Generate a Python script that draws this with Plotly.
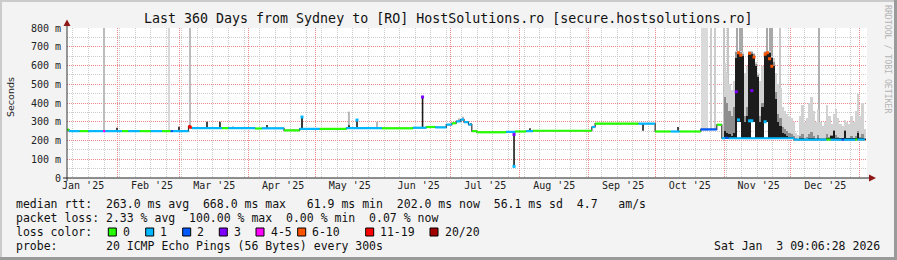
import pandas as pd
import plotly.graph_objects as go

# ---------------- data ----------------
loss_labels = ["0", "1", "2", "3", "4-5", "6-10", "11-19", "20/20"]
loss_colors = ["#26ff00", "#00b8ff", "#0059ff", "#7e00ff", "#ff00ff", "#ff5500", "#ff0000", "#a00000"]

month_starts = ["2025-02-01", "2025-03-01", "2025-04-01", "2025-05-01", "2025-06-01", "2025-07-01",
                "2025-08-01", "2025-09-01", "2025-10-01", "2025-11-01", "2025-12-01", "2026-01-01"]
month_labels = ["Jan '25", "Feb '25", "Mar '25", "Apr '25", "May '25", "Jun '25",
                "Jul '25", "Aug '25", "Sep '25", "Oct '25", "Nov '25", "Dec '25"]
label_dates = ["2025-01-16 14:00", "2025-02-16 14:00", "2025-03-16 14:00", "2025-04-16 14:00",
               "2025-05-16 14:00", "2025-06-16 14:00", "2025-07-16 14:00", "2025-08-16 14:00",
               "2025-09-16 14:00", "2025-10-16 14:00", "2025-11-16 14:00", "2025-12-16 14:00"]
y_tick_vals = [0, 100, 200, 300, 400, 500, 600, 700, 800]
y_tick_text = ["0", "100 m", "200 m", "300 m", "400 m", "500 m", "600 m", "700 m", "800 m"]

x_start = "2025-01-09 08:00"
x_end = "2026-01-04 08:00"
data_end = "2026-01-03 08:00"

# median rtt (ms) as steps: value holds from start[i] to start[i+1]
median_start = ["2025-01-09 08:00", "2025-01-10 06:00", "2025-01-15 00:00", "2025-01-19 00:00",
                "2025-01-25 12:00", "2025-01-26 12:00", "2025-02-03 00:00", "2025-02-06 00:00",
                "2025-02-11 00:00", "2025-02-16 00:00", "2025-02-21 00:00", "2025-02-25 00:00",
                "2025-02-26 00:00", "2025-03-05 00:00", "2025-03-05 20:00", "2025-03-06 12:00",
                "2025-03-20 00:00", "2025-03-23 00:00", "2025-04-04 00:00", "2025-04-07 00:00",
                "2025-04-17 00:00", "2025-04-24 00:00", "2025-05-03 00:00", "2025-05-15 00:00",
                "2025-05-31 00:00", "2025-06-14 00:00", "2025-06-20 00:00", "2025-06-24 00:00",
                "2025-06-29 00:00", "2025-07-01 12:00", "2025-07-03 12:00", "2025-07-05 12:00",
                "2025-07-07 00:00", "2025-07-09 00:00", "2025-07-10 12:00", "2025-07-12 18:00",
                "2025-07-26 00:00", "2025-07-30 00:00", "2025-08-04 00:00", "2025-08-07 00:00",
                "2025-09-02 12:00", "2025-09-04 00:00", "2025-09-23 12:00", "2025-10-01 00:00",
                "2025-10-08 00:00", "2025-10-12 00:00", "2025-10-21 12:00", "2025-10-28 18:00",
                "2025-10-31 00:00", "2025-11-01 12:00", "2025-11-03 00:00", "2025-12-02 12:00",
                "2025-12-17 00:00", "2025-12-19 00:00", "2025-12-24 00:00", "2025-12-25 00:00",
                "2025-12-30 00:00", "2025-12-31 00:00"]
median_value = [258, 250, 250, 250, 250, 250, 250, 250, 250, 250, 250, 250,
                250, 276, 270, 266, 266, 266, 264, 265, 254, 262, 262, 266,
                265, 268, 272, 270, 285, 292, 302, 312, 298, 285, 250, 244,
                246, 248, 250, 252, 272, 290, 290, 248, 248, 248, 259, 284,
                212, 214, 212, 205, 205, 204, 204, 204, 205, 205]
median_loss = [0, 1, 0, 1, 4, 1, 0, 1, 0, 1, 0, 2,
               1, 6, 5, 1, 0, 1, 0, 1, 0, 1, 0, 1,
               0, 1, 0, 1, 1, 0, 1, 1, 1, 1, 0, 0,
               1, 0, 1, 0, 1, 0, 1, 0, 1, 0, 2, 0,
               1, 2, 1, 1, 0, 1, 2, 1, 0, 1]

# narrow dark spikes (all pings high / low)
spike_dates = ["2025-01-31 20:00", "2025-02-28 17:00", "2025-03-13 08:00", "2025-03-19 04:00",
               "2025-03-25 00:00", "2025-03-28 15:00", "2025-04-02 00:00", "2025-04-09 08:00",
               "2025-04-25 02:00", "2025-05-16 05:00", "2025-05-19 20:00", "2025-06-18 08:00",
               "2025-07-10 03:00", "2025-07-29 12:00", "2025-08-05 16:00", "2025-09-25 13:00",
               "2025-10-11 07:00"]
spike_low = [250, 250, 266, 266, 266, 266, 266, 265, 262, 266, 266, 270, 285, 62, 250, 252, 248]
spike_high = [268, 274, 300, 300, 273, 270, 270, 283, 325, 282, 309, 432, 292, 246, 266, 290, 272]

# light smoke spikes
haze_dates = ["2025-04-25 02:00", "2025-05-16 05:00", "2025-05-28 20:00", "2025-07-04 18:00", "2025-07-06 13:00"]
haze_low = [262, 265, 265, 300, 305]
haze_high = [330, 354, 300, 318, 327]

# full-height grey columns (unknown / extreme max)
gap_dates = ["2025-01-25 23:00", "2025-02-24 05:00", "2025-03-05 16:00", "2025-10-23 05:00",
             "2025-10-26 03:00", "2025-10-27 22:00", "2025-11-01 00:00", "2025-11-02 19:00",
             "2025-11-06 20:00", "2025-11-08 04:00", "2025-11-09 02:00", "2025-11-20 08:00",
             "2025-11-21 16:00", "2025-11-22 14:00", "2025-11-26 04:00", "2025-12-13 18:00"]
gap_days = [0.7, 0.7, 0.9, 3.2, 0.6, 0.6, 0.5, 0.5, 0.5, 0.5, 0.5, 0.5, 0.5, 0.5, 0.5, 0.6]
gap_low = [250, 250, 262, 252, 259, 259, 212, 212, 600, 600, 600, 600, 600, 600, 212, 205]
gap_shade = ["#bcbcbc", "#d8d8d8", "#bcbcbc", "#dadada", "#cccccc", "#cccccc", "#c4c4c4", "#c4c4c4",
             "#a8a8a8", "#a8a8a8", "#a8a8a8", "#a8a8a8", "#a8a8a8", "#a8a8a8", "#c8c8c8", "#b0b0b0"]

# daily smoke, 2025-11-01 .. 2026-01-03
smoke_first_day = "2025-11-01 12:00"
smoke_floor = [212, 212, 212, 212, 212, 212, 300, 300, 212, 212,
               212, 212, 300, 300, 212, 212, 212, 212, 300, 300,
               212, 212, 212, 212, 212, 212, 212, 212, 212, 212,
               212, 212, 205, 205, 205, 205, 205, 205, 205, 205,
               205, 205, 205, 205, 205, 205, 205, 205, 205, 205,
               205, 205, 205, 205, 205, 205, 205, 205, 205, 205,
               205, 205, 205, 205]
smoke_top = [611, 560, 500, 470, 520, 680, 680, 680, 670, 560,
             600, 680, 680, 665, 620, 560, 520, 600, 680, 680,
             680, 650, 640, 560, 500, 480, 380, 360, 340, 330,
             320, 300, 240, 230, 330, 390, 300, 320, 400, 430,
             360, 300, 370, 300, 280, 300, 390, 330, 290, 340,
             370, 320, 290, 280, 310, 300, 290, 330, 300, 360,
             450, 330, 400, 260]
mid_top = [430, 400, 360, 330, 380, 670, 672, 670, 660, 330,
           380, 672, 670, 660, 610, 550, 330, 400, 670, 672,
           670, 648, 620, 460, 340, 320, 270, 260, 250, 240,
           235, 225, 212, 205, 225, 235, 215, 220, 235, 245,
           225, 215, 230, 215, 212, 215, 235, 220, 230, 255,
           230, 220, 215, 215, 255, 215, 215, 225, 215, 225,
           250, 220, 235, 210]
dark_top = [250, 240, 235, 225, 240, 640, 668, 660, 650, 300,
            330, 665, 660, 650, 600, 540, 300, 380, 662, 668,
            665, 640, 600, 420, 300, 280, 240, 235, 225, 220,
            215, 212, 208, 205, 212, 212, 208, 208, 212, 215,
            212, 208, 212, 208, 208, 208, 212, 210, 225, 250,
            212, 210, 210, 212, 250, 210, 210, 212, 210, 212,
            240, 212, 210, 208]

# coloured loss points at spike tips
tip_dates = ["2025-03-05 16:00", "2025-04-25 02:00", "2025-05-19 20:00", "2025-06-18 08:00",
             "2025-07-29 12:00", "2025-07-29 12:00", "2025-11-06 12:00", "2025-11-07 12:00",
             "2025-11-08 12:00", "2025-11-07 12:00", "2025-11-12 12:00", "2025-11-13 12:00",
             "2025-11-14 12:00", "2025-11-13 12:00", "2025-11-19 12:00", "2025-11-20 12:00",
             "2025-11-21 12:00", "2025-11-22 12:00", "2025-11-12 12:00", "2025-11-19 12:00"]
tip_values = [272, 325, 309, 432, 62, 232, 460, 668, 655, 310, 665, 466, 645, 305, 660, 668, 636, 596, 305, 300]
tip_loss = [6, 1, 1, 3, 1, 3, 3, 5, 5, 1, 5, 3, 5, 1, 5, 5, 5, 5, 1, 1]

legend_rows = [
    "median rtt:  263.0 ms avg  668.0 ms max   61.9 ms min  202.0 ms now  56.1 ms sd  4.7   am/s",
    "packet loss: 2.33 % avg  100.00 % max  0.00 % min  0.07 % now",
    "loss color:",
    "probe:       20 ICMP Echo Pings (56 Bytes) every 300s",
]
title_text = "Last 360 Days from Sydney to [RO] HostSolutions.ro [secure.hostsolutions.ro]"
stamp_text = "Sat Jan  3 09:06:28 2026"

# ---------------- geometry helpers (pixel -> paper) ----------------
L, T, W, H = 67, 28, 800, 150
def px(x):
    return (x - L) / W
def py(y):
    return (T + H - y) / H

DAY = 86400000
MONO = "DejaVu Sans Mono"

fig = go.Figure()

# full height grey columns
g_x = pd.to_datetime(gap_dates)
fig.add_trace(go.Bar(x=g_x, base=gap_low, y=[800 - b for b in gap_low],
                     width=[d * DAY for d in gap_days],
                     marker=dict(color=gap_shade, line=dict(width=0)), hoverinfo="skip"))

# smoke bars
s_x = pd.date_range(smoke_first_day, periods=len(smoke_top), freq="D")
for tops, col in ((smoke_top, "#d2d2d2"), (mid_top, "#8e8e8e"), (dark_top, "#1c1c1c")):
    fig.add_trace(go.Bar(x=s_x, base=smoke_floor, y=[max(t - b, 0) for t, b in zip(tops, smoke_floor)],
                         width=0.85 * DAY, marker=dict(color=col, line=dict(width=0)),
                         hoverinfo="skip"))

# haze spikes
hx, hy = [], []
for d, lo, hi in zip(haze_dates, haze_low, haze_high):
    hx += [d, d, None]; hy += [lo, hi, None]
fig.add_trace(go.Scatter(x=hx, y=hy, mode="lines", line=dict(color="#b8b8b8", width=2), hoverinfo="skip"))

# dark spikes
sx, sy = [], []
for d, lo, hi in zip(spike_dates, spike_low, spike_high):
    sx += [d, d, None]; sy += [lo, hi, None]
fig.add_trace(go.Scatter(x=sx, y=sy, mode="lines", line=dict(color="#1a1a1a", width=1.6), hoverinfo="skip"))

# median step path (connectors)
fig.add_trace(go.Scatter(x=median_start + [data_end], y=median_value + [median_value[-1]],
                         mode="lines", line=dict(color="#333333", width=1.2, shape="hv"), hoverinfo="skip"))

# median coloured by loss
seg_end = median_start[1:] + [data_end]
for k, col in enumerate(loss_colors):
    xs, ys = [], []
    for s, e, v, l in zip(median_start, seg_end, median_value, median_loss):
        if l == k:
            xs += [s, e, None]; ys += [v, v, None]
    if xs:
        fig.add_trace(go.Scatter(x=xs, y=ys, mode="lines", line=dict(color=col, width=2.2),
                                 hoverinfo="skip"))

# tips
fig.add_trace(go.Scatter(x=tip_dates, y=tip_values, mode="markers",
                         marker=dict(symbol="square", size=3, color=[loss_colors[i] for i in tip_loss],
                                     line=dict(width=0)), hoverinfo="skip"))

# dummy trace for the label axis
fig.add_trace(go.Scatter(x=[x_start, x_end], y=[0, 0], xaxis="x2", mode="markers",
                         marker=dict(opacity=0), hoverinfo="skip"))

shapes = []
# frame
shapes += [
    dict(type="rect", xref="paper", yref="paper", x0=px(0), x1=px(897), y0=py(2), y1=py(0),
         fillcolor="#cbcbcb", line=dict(width=0), layer="above"),
    dict(type="rect", xref="paper", yref="paper", x0=px(0), x1=px(2), y0=py(260), y1=py(0),
         fillcolor="#cbcbcb", line=dict(width=0), layer="above"),
    dict(type="rect", xref="paper", yref="paper", x0=px(0), x1=px(897), y0=py(260), y1=py(257),
         fillcolor="#9a9a9a", line=dict(width=0), layer="above"),
    dict(type="rect", xref="paper", yref="paper", x0=px(894), x1=px(897), y0=py(260), y1=py(0),
         fillcolor="#9a9a9a", line=dict(width=0), layer="above"),
]
# axes lines + arrows
shapes += [
    dict(type="line", xref="paper", yref="paper", x0=px(67), x1=px(67), y0=py(181), y1=py(24),
         line=dict(color="#333333", width=1), layer="above"),
    dict(type="line", xref="paper", yref="paper", x0=px(63), x1=px(870), y0=py(178), y1=py(178),
         line=dict(color="#222222", width=1), layer="above"),
    dict(type="path", xref="paper", yref="paper",
         path=f"M {px(67)} {py(19.5)} L {px(63.5)} {py(26)} L {px(70.5)} {py(26)} Z",
         fillcolor="#8e1616", line=dict(width=0), layer="above"),
    dict(type="path", xref="paper", yref="paper",
         path=f"M {px(876)} {py(178)} L {px(869)} {py(174.5)} L {px(869)} {py(181.5)} Z",
         fillcolor="#8e1616", line=dict(width=0), layer="above"),
]
# legend boxes
box_x = [108.3, 145.7, 182.7, 219.3, 256, 297.7, 365.7, 430]
annotations = []
for bx, col, lab in zip(box_x, loss_colors, loss_labels):
    shapes.append(dict(type="rect", xref="paper", yref="paper", x0=px(bx), x1=px(bx + 8),
                       y0=py(236), y1=py(228), fillcolor=col, line=dict(color="#000000", width=1),
                       layer="above"))
    annotations.append(dict(text=lab, xref="paper", yref="paper", x=px(bx + 12.5), y=py(232),
                            xanchor="left", yanchor="middle", showarrow=False,
                            font=dict(family=MONO, size=11.5, color="#111111")))

annotations.append(dict(text=title_text, xref="paper", yref="paper", x=px(448), y=py(19),
                        xanchor="center", yanchor="middle", showarrow=False,
                        font=dict(family=MONO, size=13.3, color="#111111")))
for i, row in enumerate(legend_rows):
    annotations.append(dict(text=row.replace(" ", "&nbsp;"), xref="paper", yref="paper",
                            x=px(14), y=py(204 + 14 * i), xanchor="left", yanchor="middle",
                            showarrow=False, font=dict(family=MONO, size=11.5, color="#111111")))
annotations.append(dict(text=stamp_text.replace(" ", "&nbsp;"), xref="paper", yref="paper",
                        x=px(882), y=py(246), xanchor="right", yanchor="middle", showarrow=False,
                        font=dict(family=MONO, size=11.5, color="#111111")))
annotations.append(dict(text="Seconds", xref="paper", yref="paper", x=px(10), y=py(97),
                        xanchor="center", yanchor="middle", textangle=-90, showarrow=False,
                        font=dict(family="DejaVu Sans", size=9.5, color="#222222")))
annotations.append(dict(text="RRDTOOL / TOBI OETIKER", xref="paper", yref="paper", x=px(888), y=py(59),
                        xanchor="center", yanchor="middle", textangle=90, showarrow=False,
                        font=dict(family=MONO, size=8.2, color="#b4b4b4")))

fig.update_layout(
    width=897, height=260, margin=dict(l=L, r=897 - L - W, t=T, b=260 - T - H),
    paper_bgcolor="#f3f3f3", plot_bgcolor="#ffffff", barmode="overlay", showlegend=False,
    bargap=0,
    xaxis=dict(type="date", range=[x_start, x_end], tickmode="linear", tick0="2025-01-12",
               dtick=7 * DAY, showticklabels=False, showgrid=True, gridcolor="#cccccc",
               griddash="1px,1px", gridwidth=1, zeroline=False, showline=False, ticks=""),
    xaxis2=dict(type="date", overlaying="x", anchor="y", range=[x_start, x_end],
                tickmode="array", tickvals=label_dates, ticktext=month_labels, showgrid=False,
                zeroline=False, showline=False, ticks="",
                tickfont=dict(family=MONO, size=10, color="#222222"),
                minor=dict(tickmode="array", tickvals=month_starts, showgrid=True,
                           gridcolor="#f08a8a", griddash="1px,1px", gridwidth=1, ticks="")),
    yaxis=dict(range=[0, 800], tickmode="array", tickvals=y_tick_vals, ticktext=y_tick_text,
               showgrid=True, gridcolor="#f08a8a", griddash="1px,1px", gridwidth=1,
               zeroline=False, showline=False, ticks="", ticklabelstandoff=5,
               tickfont=dict(family=MONO, size=10, color="#222222"),
               minor=dict(dtick=50, tick0=0, showgrid=True, gridcolor="#cccccc",
                          griddash="1px,1px", gridwidth=1, ticks="")),
    shapes=shapes, annotations=annotations,
)

fig.write_html("out.html")
